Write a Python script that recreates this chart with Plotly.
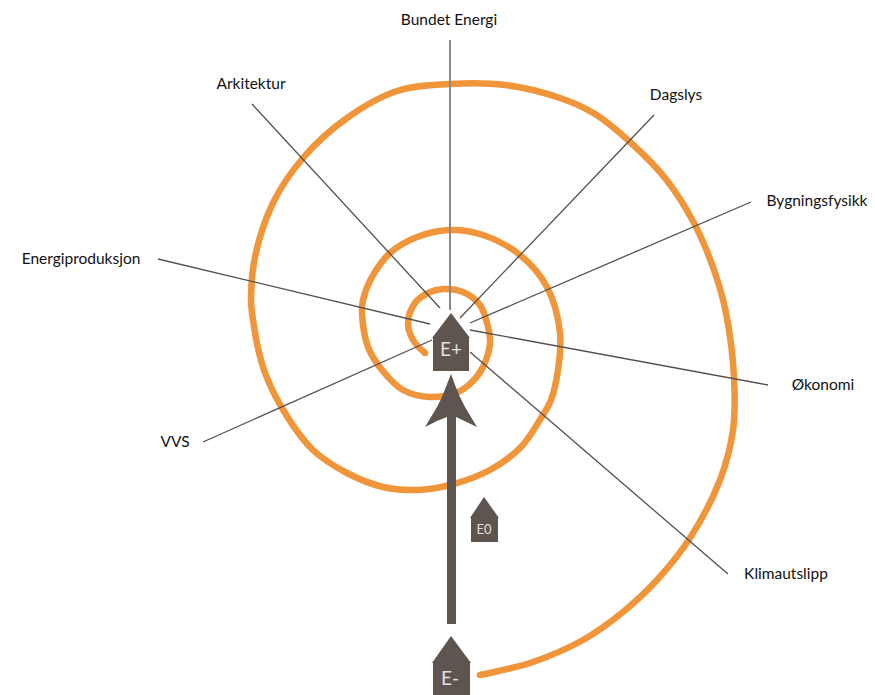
import plotly.graph_objects as go

ORANGE = "#F0953A"
DARK = "#5F5550"
LINE = "#55504E"

spiral_x = [425,413,408,415,428,443,463,480,488,490,483,472,458,430,403,382,368,362,363,372,390,417,450,483,520,547,560,558,551,541,521,490,450,417,383,347,313,282,263,252,251,255,273,303,347,397,450,505,560,595,630,665,694,714,726,734,733,720,690,657,623,583,533,490,480]
spiral_y = [353,340,323,303,293,289,292,305,327,343,367,382,392,397,390,370,347,313,300,277,253,237,230,235,255,287,333,370,400,418,447,470,485,490,487,473,450,408,367,313,297,257,203,158,118,91,84,85,98,114,142,178,223,270,313,377,430,480,538,580,612,640,662,673,675]

labels = ["Bundet Energi","Arkitektur","Dagslys","Bygningsfysikk","Energiproduksjon","Økonomi","VVS","Klimautslipp"]
label_x = [449,251,676,817,81,823,175,786]
label_y = [21,85,96,202,260,386,443,575]
leader_x0 = [450,252,654,751,158,768,203,728]
leader_y0 = [40,104,115,202,259,385,442,574]
leader_x1 = [450,440,460,470,430,470,432,470]
leader_y1 = [310,308,318,323,324,330,340,352]

house_names = ["E+","E0","E-"]
house_x = [[451,470,469,469,433,433,432,451],[484,499,498,498,471,471,470,484],[451,471,470,470,433,433,432,451]]
house_y = [[313,338,338,371,371,338,338,313],[497,518,518,542,542,518,518,497],[636,663,663,700,700,663,663,636]]
house_label_x = [451,484,450]
house_label_y = [351,531,680]
house_label_size = [19,13,19]

arrow_x = [451,447,442,437,425,437,447,447,456,456,465,477,465,460,455,451]
arrow_y = [374,385,397,407,427,421,417,624,624,417,421,427,407,397,385,374]

fig = go.Figure()
fig.add_trace(go.Scatter(x=spiral_x, y=spiral_y, mode="lines",
                         line=dict(color=ORANGE, width=6.5, shape="spline", smoothing=1), hoverinfo="skip"))
fig.add_trace(go.Scatter(x=[spiral_x[0], spiral_x[-1]], y=[spiral_y[0], spiral_y[-1]], mode="markers",
                         marker=dict(color=ORANGE, size=6.5), hoverinfo="skip"))
for i, (x0, y0, x1, y1) in enumerate(zip(leader_x0, leader_y0, leader_x1, leader_y1)):
    style = dict(color="#8A8A8A", width=2) if i == 0 else dict(color=LINE, width=1.3)
    fig.add_trace(go.Scatter(x=[x0, x1], y=[y0, y1], mode="lines", line=style, hoverinfo="skip"))
fig.add_trace(go.Scatter(x=arrow_x, y=arrow_y, mode="lines", fill="toself", fillcolor=DARK,
                         line=dict(color=DARK, width=0), hoverinfo="skip"))
for hx, hy in zip(house_x, house_y):
    fig.add_trace(go.Scatter(x=hx, y=hy, mode="lines", fill="toself", fillcolor=DARK,
                             line=dict(color=DARK, width=0), hoverinfo="skip"))
for name, x, y, s in zip(house_names, house_label_x, house_label_y, house_label_size):
    fig.add_trace(go.Scatter(x=[x], y=[y], mode="text", text=[name],
                             textfont=dict(family="Lato", size=s, color="#E4E0DC"), hoverinfo="skip"))
fig.add_trace(go.Scatter(x=label_x, y=label_y, mode="text", text=labels,
                         textfont=dict(family="Lato", size=15.5, color="#111111"), hoverinfo="skip"))

fig.update_layout(width=875, height=695, margin=dict(l=0, r=0, t=0, b=0), showlegend=False,
                  paper_bgcolor="white", plot_bgcolor="white",
                  xaxis=dict(range=[0, 875], visible=False),
                  yaxis=dict(range=[695, 0], visible=False))
fig.write_html("out.html", post_script="document.body.style.margin='0';",
               config={"displayModeBar": False})
